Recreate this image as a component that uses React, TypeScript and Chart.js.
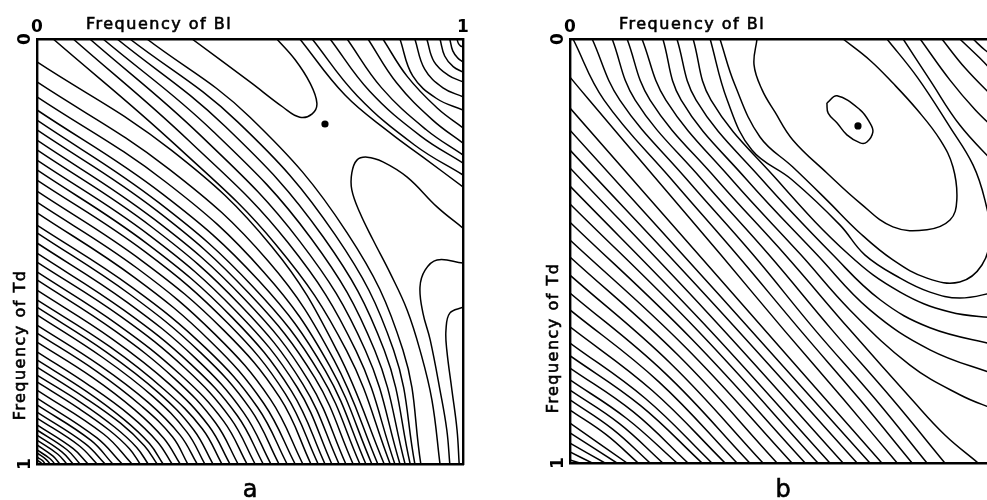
import React, { useEffect, useRef } from "react";
import { Chart, registerables } from "chart.js";

Chart.register(...registerables);

const X_TITLE = "Frequency of Bl";
const Y_TITLE = "Frequency of Td";
const PANEL_LABELS = ["a", "b"];
const TICK_VALUES = [0, 1];
const TICK_LABELS = ["0", "1"];
const FONT = "'DejaVu Sans', sans-serif";

// ---------- panel a : contour lines, flat [x0,y0,x1,y1,...] in frequency units ----------
const A_LOWER_LEFT: number[][] = [
  [0, .991, .008, .996, .012, 1],
  [0, .984, .013, .992, .019, 1],
  [0, .974, .021, .989, .031, 1],
  [0, .967, .030, .987, .042, 1],
  [0, .955, .037, .981, .054, 1],
  [0, .944, .049, .977, .070, 1],
  [0, .932, .059, .972, .085, 1],
  [0, .920, .071, .967, .101, 1],
  [0, .908, .085, .964, .120, 1],
  [0, .892, .099, .957, .141, 1],
  [0, .878, .113, .952, .160, 1],
  [0, .861, .126, .944, .178, 1],
  [0, .845, .140, .938, .200, 1],
  [0, .826, .157, .930, .223, 1],
  [0, .807, .096, .868, .169, .920, .217, .964, .242, 1],
  [0, .791, .104, .856, .182, .913, .234, .961, .261, 1],
  [0, .772, .111, .843, .196, .904, .252, .957, .282, 1],
  [0, .755, .116, .829, .204, .895, .264, .952, .296, 1],
  [0, .736, .124, .816, .219, .886, .283, .948, .317, 1],
  [0, .713, .130, .796, .229, .872, .298, .940, .336, 1],
  [0, .692, .140, .782, .246, .864, .318, .936, .354, 1],
  [0, .673, .149, .769, .261, .855, .336, .932, .376, 1],
  [0, .649, .155, .750, .272, .841, .352, .925, .394, 1],
  [0, .631, .162, .736, .285, .832, .368, .920, .413, 1],
  [0, .614, .171, .724, .300, .826, .388, .917, .434, 1],
  [0, .591, .177, .706, .311, .812, .403, .910, .453, 1],
  [0, .567, .183, .687, .323, .799, .419, .903, .472, 1],
  [0, .548, .191, .673, .337, .790, .438, .899, .493, 1],
  [0, .525, .198, .654, .349, .776, .454, .892, .512, 1],
  [0, .504, .204, .638, .361, .765, .470, .886, .531, 1],
  [0, .480, .211, .619, .373, .752, .485, .879, .549, 1],
  [0, .456, .217, .600, .384, .738, .501, .871, .568, 1],
  [0, .438, .224, .585, .397, .728, .518, .867, .587, 1],
  [0, .409, .230, .562, .407, .711, .532, .857, .606, 1],
  [0, .384, .236, .540, .418, .695, .548, .848, .624, 1],
  [0, .358, .248, .523, .438, .685, .570, .844, .643, 1],
  [0, .332, .254, .501, .448, .669, .583, .835, .660, 1],
  [0, .308, .259, .482, .458, .655, .597, .828, .676, 1],
  [0, .285, .264, .462, .468, .641, .611, .820, .692, 1],
  [0, .261, .270, .443, .478, .627, .624, .812, .709, 1],
  [0, .238, .275, .424, .488, .613, .638, .805, .725, 1],
  [0, .214, .281, .404, .498, .599, .652, .797, .742, 1],
  [0, .191, .286, .385, .508, .584, .665, .789, .758, 1],
  [0, .167, .295, .365, .521, .569, .677, .781, .772, 1],
  [0, .136, .303, .337, .532, .548, .687, .769, .786, 1],
  [0, .101, .310, .306, .543, .523, .697, .755, .800, 1],
  [0, .054, .316, .262, .551, .488, .705, .735, .815, 1],
  [.038, 0, .327, .251, .561, .484, .727, .734, .829, 1],
  [.085, 0, .356, .239, .589, .479, .749, .734, .840, 1],
  [.124, 0, .385, .228, .616, .475, .771, .733, .852, 1],
  [.155, 0, .413, .217, .644, .470, .793, .733, .864, 1],
  [.188, 0, .442, .206, .672, .466, .815, .732, .876, 1],
  [.218, 0, .471, .195, .700, .461, .837, .732, .887, 1],
  [.258, 0, .500, .184, .728, .456, .859, .732, .901, 1],
];

const A_TOP_RIGHT: number[][] = [
  [.986, 0, .989, .010, .994, .016, 1, .019],
  [.969, 0, .976, .028, .988, .045, 1, .054],
  [.946, 0, .957, .040, .977, .065, 1, .078],
  [.915, 0, .932, .053, .965, .085, 1, .101],
  [.887, 0, .910, .071, .953, .115, 1, .136],
  [.852, 0, .882, .087, .938, .140, 1, .167],
  [.812, 0, .869, .088, .940, .163, 1, .209],
  [.777, 0, .844, .103, .929, .191, 1, .245],
  [.728, 0, .809, .115, .913, .213, 1, .273],
  [.688, 0, .781, .123, .900, .228, 1, .292],
  [.646, 0, .752, .134, .887, .250, 1, .320],
  [.617, 0, .723, .132, .829, .221, .906, .278, 1, .348],
];

const A_TOP_LOOP: number[] = [.364, 0, .500, .101, .577, .160, .617, .184, .646, .176, .657, .151, .641, .104, .606, .049, .563, 0];

const A_RIGHT_SIDE: number[][] = [
  [1, .445, .939, .395, .869, .325, .812, .289, .775, .278, .751, .285, .739, .315, .739, .355, .758, .409, .789, .473, .829, .551, .869, .638, .899, .732, .927, .849, .946, 1],
  [1, .527, .939, .520, .911, .544, .899, .584, .906, .645, .923, .708, .946, .826, .962, .920, .969, 1],
  [1, .631, .969, .645, .960, .685, .962, .732, .974, .826, .986, .920, .991, 1],
];

const A_DOTS: number[][] = [[.676, .200]];

// ---------- panel b ----------
const B_LOWER_LEFT: number[][] = [
  [0, .993, .023, 1], [0, .974, .052, 1], [0, .953, .082, 1], [0, .929, .110, 1],
  [0, .906, .134, 1],
  [0, .875, .085, .933, .160, 1],
  [0, .851, .100, .920, .188, 1],
  [0, .828, .116, .907, .218, 1],
  [0, .804, .133, .895, .251, 1],
  [0, .776, .148, .879, .277, 1],
  [0, .747, .165, .864, .310, 1],
  [0, .717, .177, .848, .333, 1],
  [0, .679, .193, .829, .364, 1],
  [0, .639, .208, .808, .392, 1],
  [0, .599, .223, .788, .422, 1],
  [0, .557, .238, .767, .453, 1],
  [0, .514, .254, .746, .486, 1],
  [0, .474, .271, .727, .521, 1],
  [0, .432, .285, .707, .552, 1],
  [0, .389, .299, .687, .582, 1],
  [0, .347, .311, .668, .610, 1],
  [0, .304, .325, .648, .641, 1],
  [0, .262, .340, .628, .674, 1],
  [0, .215, .353, .607, .704, 1],
  [0, .163, .366, .582, .732, 1],
  [0, .090, .045, .144, .204, .332, .354, .509, .502, .686, .643, .851, .768, 1],
  [.007, 0, .080, .144, .239, .332, .392, .509, .540, .686, .681, .851, .803, 1],
  [.052, 0, .117, .144, .275, .332, .430, .509, .575, .686, .718, .851, .838, 1],
  [.099, 0, .153, .144, .310, .332, .467, .509, .615, .686, .758, .851, .880, 1],
  [.134, 0, .188, .144, .345, .332, .505, .509, .657, .686, .803, .851, .880, .934, .958, 1],
];

const B_WRAPPING: number[][] = [
  [.169, 0, .225, .144, .380, .332, .542, .509, .657, .639, .798, .769, .915, .839, 1, .875],
  [.218, 0, .261, .144, .415, .332, .580, .509, .704, .639, .845, .733, 1, .792],
  [.251, 0, .296, .144, .451, .332, .617, .509, .728, .615, .845, .681, 1, .722],
  [.289, 0, .331, .144, .486, .332, .655, .509, .775, .597, .892, .644, 1, .658],
  [.329, 0, .369, .144, .427, .262, .521, .332, .634, .439, .692, .509, .775, .564, .845, .597, .915, .611, 1, .597],
  [.352, 0, .387, .108, .446, .231, .523, .302, .603, .380, .681, .458, .758, .521, .838, .564, .915, .573, .967, .533, .986, .462, .974, .380, .946, .297, .892, .208, .815, .090, .744, 0],
];

const B_OPEN_LOOP: number[] = [.439, 0, .432, .061, .451, .120, .481, .172, .523, .238, .603, .316, .681, .387, .758, .443, .838, .450, .892, .427, .908, .380, .899, .302, .869, .238, .815, .167, .758, .104, .704, .050, .641, 0];

const B_SMALL_LOOP: number[] = [.603, .151, .627, .134, .681, .167, .704, .198, .711, .219, .697, .243, .681, .245, .650, .226, .627, .198, .606, .175, .603, .151];

const B_TOP_RIGHT: number[][] = [
  [.782, 0, .845, .097, .915, .203, 1, .297],
  [.822, 0, .892, .097, .951, .167, 1, .215],
  [.873, 0, .927, .068, 1, .144],
  [.915, 0, .962, .045, 1, .085],
  [.946, 0, .974, .026, 1, .045],
];

const B_DOTS: number[][] = [[.676, .205]];

function toPts(flat: number[]) {
  const out: { x: number; y: number }[] = [];
  for (let i = 0; i < flat.length; i += 2) out.push({ x: flat[i], y: flat[i + 1] });
  return out;
}

type Axes = { top: number; left: number; bottom: number; right: number };

function drawHeavy(ctx: CanvasRenderingContext2D, text: string, x: number, y: number) {
  ctx.fillText(text, x, y);
  ctx.strokeText(text, x, y);
}

function textPlugin(label: string, yTitleCenter: number) {
  return {
    id: "panelText",
    afterDraw(chart: any) {
      const { ctx, chartArea: ca } = chart;
      ctx.save();
      ctx.fillStyle = "#000";
      ctx.strokeStyle = "#000";
      ctx.lineWidth = 0.6;
      ctx.font = `16px ${FONT}`;
      (ctx as any).letterSpacing = "1.5px";
      ctx.textAlign = "left";
      ctx.textBaseline = "alphabetic";
      drawHeavy(ctx, X_TITLE, ca.left + 49, 29);
      ctx.translate(ca.left - 16, yTitleCenter);
      ctx.rotate(-Math.PI / 2);
      ctx.textAlign = "center";
      ctx.textBaseline = "middle";
      drawHeavy(ctx, Y_TITLE, 0, 0);
      ctx.restore();
      ctx.save();
      ctx.fillStyle = "#000";
      ctx.strokeStyle = "#000";
      ctx.lineWidth = 0.6;
      ctx.font = `24px ${FONT}`;
      ctx.textAlign = "center";
      ctx.textBaseline = "alphabetic";
      drawHeavy(ctx, label, (ca.left + ca.right) / 2, 497);
      ctx.restore();
    },
  };
}

function Panel(props: {
  lines: number[][];
  dots: number[][];
  label: string;
  left: number;
  width: number;
  axes: Axes;
  yTitleY: number;
}) {
  const ref = useRef<HTMLCanvasElement>(null);
  useEffect(() => {
    const { lines, dots, label, axes, yTitleY } = props;
    const border = { display: true, color: "#000", width: 2.4 };
    const tickFont = { family: FONT, size: 17, weight: "bold" as const };
    const noGrid = { display: false, drawTicks: false };
    const setTicks = (s: any) => {
      s.ticks = TICK_VALUES.map((v) => ({ value: v }));
    };
    const datasets: any[] = lines.map((l) => ({
      type: "line",
      data: toPts(l),
      borderColor: "#000",
      borderWidth: 1.5,
      pointRadius: 0,
      tension: 0.4,
      fill: false,
    }));
    datasets.push({
      type: "line",
      data: dots.map(([x, y]) => ({ x, y })),
      showLine: false,
      pointRadius: 3.6,
      pointBackgroundColor: "#000",
      pointBorderColor: "#000",
      pointBorderWidth: 0,
    });
    const chart = new Chart(ref.current as HTMLCanvasElement, {
      type: "line",
      data: { datasets },
      options: {
        animation: false,
        responsive: false,
        devicePixelRatio: 1,
        events: [],
        layout: { padding: 0 },
        plugins: { legend: { display: false }, tooltip: { enabled: false } },
        scales: {
          x: {
            type: "linear",
            position: "top",
            min: 0,
            max: 1,
            afterBuildTicks: setTicks,
            ticks: {
              callback: (_v: any, i: number) => TICK_LABELS[i],
              font: tickFont,
              color: "#000",
              padding: 1,
              maxRotation: 0,
              autoSkip: false,
            },
            grid: noGrid,
            border,
            afterFit: (s: any) => {
              s.height = axes.top;
            },
          },
          y: {
            type: "linear",
            position: "left",
            reverse: true,
            min: 0,
            max: 1,
            afterBuildTicks: setTicks,
            ticks: {
              callback: (_v: any, i: number) => TICK_LABELS[i],
              font: tickFont,
              color: "#000",
              padding: 5.5,
              minRotation: 90,
              maxRotation: 90,
              crossAlign: "center",
              autoSkip: false,
            },
            grid: noGrid,
            border,
            afterFit: (s: any) => {
              s.width = axes.left;
            },
          },
          x2: {
            type: "linear",
            position: "bottom",
            min: 0,
            max: 1,
            ticks: { display: false },
            grid: noGrid,
            border,
            afterFit: (s: any) => {
              s.height = axes.bottom;
            },
          },
          y2: {
            type: "linear",
            position: "right",
            reverse: true,
            min: 0,
            max: 1,
            ticks: { display: false },
            grid: noGrid,
            border,
            afterFit: (s: any) => {
              s.width = axes.right;
            },
          },
        },
      } as any,
      plugins: [textPlugin(label, yTitleY)],
    });
    return () => chart.destroy();
  }, []);
  return (
    <canvas
      ref={ref}
      width={props.width}
      height={500}
      style={{ position: "absolute", left: props.left, top: 0, width: props.width, height: 500 }}
    />
  );
}

export default function App() {
  const aLines = [...A_LOWER_LEFT, ...A_TOP_RIGHT, A_TOP_LOOP, ...A_RIGHT_SIDE];
  const bLines = [...B_LOWER_LEFT, ...B_WRAPPING, B_OPEN_LOOP, B_SMALL_LOOP, ...B_TOP_RIGHT];
  return (
    <div
      style={{
        position: "absolute",
        left: 0,
        top: 0,
        width: 987,
        height: 500,
        overflow: "hidden",
        background: "#fff",
      }}
    >
      <Panel
        lines={aLines}
        dots={A_DOTS}
        label={PANEL_LABELS[0]}
        left={0}
        width={490}
        axes={{ top: 39, left: 37, bottom: 36, right: 27 }}
        yTitleY={345}
      />
      <Panel
        lines={bLines}
        dots={B_DOTS}
        label={PANEL_LABELS[1]}
        left={500}
        width={510}
        axes={{ top: 39, left: 70, bottom: 37, right: 14 }}
        yTitleY={338}
      />
    </div>
  );
}
